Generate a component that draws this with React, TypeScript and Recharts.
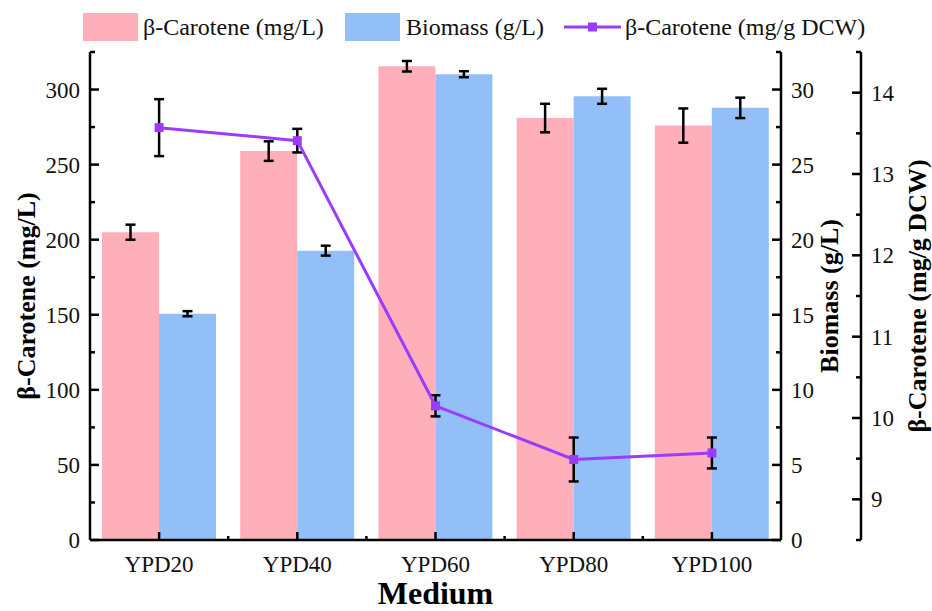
import React from "react";
import { ComposedChart, Bar, Line, XAxis, YAxis, ErrorBar } from "recharts";

// Medium composition vs. carotenoid yield
const media = ["YPD20", "YPD40", "YPD60", "YPD80", "YPD100"];
const titer = [205, 259, 315.5, 281, 276];
const titerErr = [5, 6.5, 3.5, 9.5, 11.4];
const biomass = [15.07, 19.27, 31.02, 29.55, 28.78];
const biomassErr = [0.17, 0.33, 0.2, 0.5, 0.68];
const content = [13.57, 13.41, 10.15, 9.49, 9.57];
const contentErr = [0.35, 0.145, 0.13, 0.27, 0.19];

const titerTicks = [0, 25, 50, 75, 100, 125, 150, 175, 200, 225, 250, 275, 300, 325];
const biomassTicks = [0, 2.5, 5, 7.5, 10, 12.5, 15, 17.5, 20, 22.5, 25, 27.5, 30, 32.5];
const contentTicks = [8.5, 9, 9.5, 10, 10.5, 11, 11.5, 12, 12.5, 13, 13.5, 14, 14.5];

const PINK = "#FFAFBA";
const BLUE = "#92BFF8";
const PURPLE = "#9A3CFF";
const FONT = "'Liberation Serif', 'Times New Roman', serif";

const WIDTH = 932;
const HEIGHT = 611;
const LEFT_W = 90;
const RIGHT_W1 = 80;
const RIGHT_W2 = 71;
const PLOT_W = WIDTH - LEFT_W - RIGHT_W1 - RIGHT_W2;
const BAND = PLOT_W / media.length;

const data = media.map((m, i) => ({
  medium: m,
  titer: titer[i],
  titerErr: titerErr[i],
  biomass: biomass[i],
  biomassErr: biomassErr[i],
  content: content[i],
  contentErr: contentErr[i],
}));

const isMultiple = (v: number, step: number) =>
  Math.abs(v / step - Math.round(v / step)) < 1e-6;

// inward ticks: long + label on major steps, short on minor
function yTick(side: "left" | "right", step: number) {
  return (props: any) => {
    const { x, y, payload } = props;
    const major = isMultiple(payload.value, step);
    const dir = side === "left" ? 1 : -1;
    return (
      <g>
        <line x1={x} x2={x + dir * (major ? 9 : 5)} y1={y} y2={y} stroke="#000" strokeWidth={2.5} />
        {major && (
          <text
            x={x - dir * 10}
            y={y}
            dy="0.35em"
            textAnchor={side === "left" ? "end" : "start"}
            fontFamily={FONT}
            fontSize={23}
            fill="#111"
          >
            {payload.value}
          </text>
        )}
      </g>
    );
  };
}

function XTick(props: any) {
  const { x, y, payload, index } = props;
  return (
    <g>
      <line x1={x} x2={x} y1={y} y2={y - 8} stroke="#000" strokeWidth={2.5} />
      {index < media.length - 1 && (
        <line x1={x + BAND / 2} x2={x + BAND / 2} y1={y} y2={y - 4} stroke="#000" strokeWidth={2.5} />
      )}
      <text x={x} y={y + 32} textAnchor="middle" fontFamily={FONT} fontSize={23} fill="#111">
        {payload.value}
      </text>
    </g>
  );
}

function axisTitle(text: string, offsetX: number) {
  return (props: any) => {
    const vb = props.viewBox;
    const cx = vb.x + offsetX;
    const cy = vb.y + vb.height / 2;
    return (
      <text
        transform={`translate(${cx},${cy}) rotate(-90)`}
        textAnchor="middle"
        fontFamily={FONT}
        fontWeight="bold"
        fontSize={26}
        fill="#000"
      >
        {text}
      </text>
    );
  };
}

const SquareDot = (p: any) => (
  <rect key={`dot-${p.index}`} x={p.cx - 4.5} y={p.cy - 4.5} width={9} height={9} fill={PURPLE} />
);

const axisLine = { stroke: "#000", strokeWidth: 2.5 };

function LegendRow() {
  const text = { position: "absolute" as const, top: 13, lineHeight: "28px", whiteSpace: "nowrap" as const };
  return (
    <div style={{ position: "absolute", left: 0, top: 0, width: WIDTH, height: 50, fontFamily: FONT, fontSize: 24, color: "#111" }}>
      <div style={{ position: "absolute", left: 83, top: 13, width: 55, height: 28, background: PINK }} />
      <span style={{ ...text, left: 143 }}>β-Carotene (mg/L)</span>
      <div style={{ position: "absolute", left: 345, top: 13, width: 55, height: 28, background: BLUE }} />
      <span style={{ ...text, left: 406 }}>Biomass (g/L)</span>
      <svg style={{ position: "absolute", left: 564, top: 13 }} width={57} height={28}>
        <line x1={0} x2={57} y1={14} y2={14} stroke={PURPLE} strokeWidth={3} />
        <rect x={24} y={9.5} width={9} height={9} fill={PURPLE} />
      </svg>
      <span style={{ ...text, left: 625 }}>β-Carotene (mg/g DCW)</span>
    </div>
  );
}

export default function App() {
  return (
    <div style={{ position: "absolute", left: 0, top: 0, width: WIDTH, height: HEIGHT, background: "#fff" }}>
      <ComposedChart
        width={WIDTH}
        height={HEIGHT}
        data={data}
        margin={{ top: 52, right: 0, bottom: 0, left: 0 }}
        barCategoryGap={12}
        barGap={0}
      >
        <XAxis
          dataKey="medium"
          height={71}
          axisLine={axisLine}
          tickLine={false}
          tickSize={0}
          tickMargin={0}
          tick={XTick}
          interval={0}
          label={{
            value: "Medium",
            position: "insideBottom",
            offset: 7,
            fontFamily: FONT,
            fontWeight: "bold",
            fontSize: 32,
            fill: "#000",
          }}
        />
        <YAxis
          yAxisId="titer"
          orientation="left"
          width={LEFT_W}
          domain={[0, 325]}
          ticks={titerTicks}
          interval={0}
          axisLine={axisLine}
          tickLine={false}
          tickSize={0}
          tickMargin={0}
          tick={yTick("left", 50)}
          label={axisTitle("β-Carotene (mg/L)", 35)}
        />
        <YAxis
          yAxisId="biomass"
          orientation="right"
          width={RIGHT_W1}
          domain={[0, 32.5]}
          ticks={biomassTicks}
          interval={0}
          axisLine={axisLine}
          tickLine={false}
          tickSize={0}
          tickMargin={0}
          tick={yTick("right", 5)}
          label={axisTitle("Biomass (g/L)", 57)}
        />
        <YAxis
          yAxisId="content"
          orientation="right"
          width={RIGHT_W2}
          domain={[8.5, 14.5]}
          ticks={contentTicks}
          interval={0}
          axisLine={axisLine}
          tickLine={false}
          tickSize={0}
          tickMargin={0}
          tick={yTick("right", 1)}
          label={axisTitle("β-Carotene (mg/g DCW)", 65)}
        />
        <Bar yAxisId="titer" dataKey="titer" fill={PINK} isAnimationActive={false}>
          <ErrorBar dataKey="titerErr" width={5} stroke="#000" strokeWidth={2.5} isAnimationActive={false} />
        </Bar>
        <Bar yAxisId="biomass" dataKey="biomass" fill={BLUE} isAnimationActive={false}>
          <ErrorBar dataKey="biomassErr" width={5} stroke="#000" strokeWidth={2.5} isAnimationActive={false} />
        </Bar>
        <Line
          yAxisId="content"
          dataKey="content"
          stroke={PURPLE}
          strokeWidth={3}
          dot={SquareDot}
          activeDot={false}
          isAnimationActive={false}
        >
          <ErrorBar dataKey="contentErr" width={5} stroke="#000" strokeWidth={2.5} isAnimationActive={false} />
        </Line>
      </ComposedChart>
      <LegendRow />
    </div>
  );
}
